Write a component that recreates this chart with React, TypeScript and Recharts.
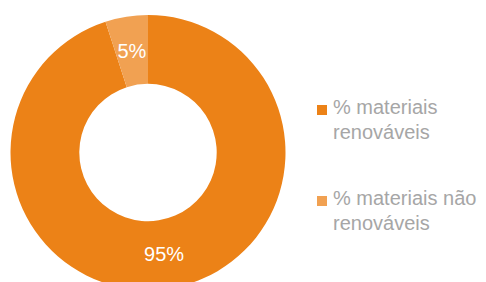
import React from 'react'
import { PieChart, Pie, Cell, Legend } from 'recharts'

const categories = ['% materiais renováveis', '% materiais não renováveis']
const values = [95, 5]
const labels = ['95%', '5%']

const COLORS = ['#EC8217', '#F1A152']
const RADIAN = Math.PI / 180

const data = categories.map((name, i) => ({ name, value: values[i], label: labels[i] }))

const renderLabel = (props: any) => {
  const { cx, cy, midAngle, innerRadius, outerRadius, index } = props
  const r = (innerRadius + outerRadius) / 2
  const x = cx + r * Math.cos(-midAngle * RADIAN)
  const y = cy + r * Math.sin(-midAngle * RADIAN)
  return (
    <text
      x={x}
      y={y}
      fill="#ffffff"
      textAnchor="middle"
      dominantBaseline="central"
      fontSize={20}
      fontFamily="'Liberation Sans', Arial, sans-serif"
    >
      {data[index].label}
    </text>
  )
}

const renderLegend = () => (
  <div style={{ fontFamily: "'Liberation Sans', Arial, sans-serif", fontSize: 20, lineHeight: '25px', color: '#A6A6A6' }}>
    {data.map((entry, i) => (
      <div key={entry.name} style={{ position: 'relative', paddingLeft: 16, width: 156, marginBottom: i === 0 ? 41 : 0 }}>
        <span
          style={{
            position: 'absolute',
            left: 0,
            top: 10,
            width: 10,
            height: 10,
            background: COLORS[i]
          }}
        />
        {entry.name}
      </div>
    ))}
  </div>
)

export default function App() {
  return (
    <div style={{ position: 'absolute', left: 0, top: 0, width: 486, height: 282, background: '#fff', overflow: 'hidden' }}>
      <PieChart width={486} height={282} margin={{ top: 0, right: 0, bottom: 0, left: 0 }}>
        <Pie
          data={data}
          dataKey="value"
          nameKey="name"
          cx={148}
          cy={152.5}
          innerRadius={68.7}
          outerRadius={137.5}
          startAngle={90}
          endAngle={-270}
          stroke="none"
          label={renderLabel}
          labelLine={false}
          isAnimationActive={false}
        >
          {data.map((entry, index) => (
            <Cell key={`cell-${index}`} fill={COLORS[index]} />
          ))}
        </Pie>
        <Legend
          content={renderLegend}
          layout="vertical"
          wrapperStyle={{ position: 'absolute', left: 317, top: 95, width: 172 }}
        />
      </PieChart>
    </div>
  )
}
